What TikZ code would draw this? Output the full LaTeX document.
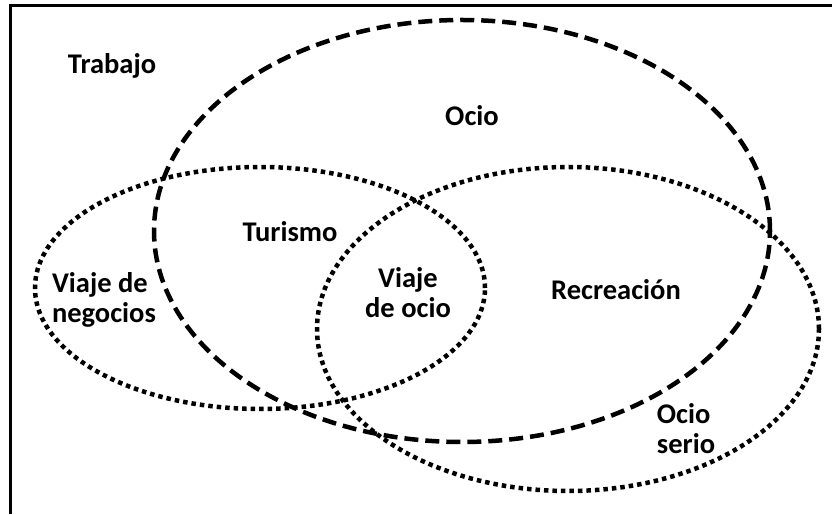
\documentclass[tikz,border=0pt]{standalone}
\usepackage{fontspec}
\setmainfont{Carlito}

\begin{document}
\begin{tikzpicture}
   [x=1pt, y=1pt,
    label/.style={font=\bfseries\fontsize{28.5}{30}\selectfont, align=center},
    ocioline/.style={line width=4.5pt, dash pattern=on 14pt off 7pt},
    dotline/.style={line width=4.5pt, dash pattern=on 4.5pt off 4pt}]
   \useasboundingbox (0,0) rectangle (832,514);
   \draw[line width=3pt] (10,0) -- (10,508) -- (832,508);

   \draw[ocioline] (462,283) ellipse [x radius=308, y radius=211];
   \draw[dotline] (260,226) ellipse [x radius=225, y radius=121];
   \draw[dotline] (568,185) ellipse [x radius=251, y radius=162];

   \node[label] (trabajo) at (112,448) {Trabajo};
   \node[label] (ocio) at (472,398) {Ocio};
   \node[label] (turismo) at (290,282) {Turismo};
   \node[label, align=left] (negocios) at (104,214) {Viaje de\\negocios};
   \node[label] (viajeocio) at (408,221) {Viaje\\de ocio};
   \node[label] (recreacion) at (616,224) {Recreación};
   \node[label, align=left] (serio) at (686,85) {Ocio\\serio};
\end{tikzpicture}
\end{document}
